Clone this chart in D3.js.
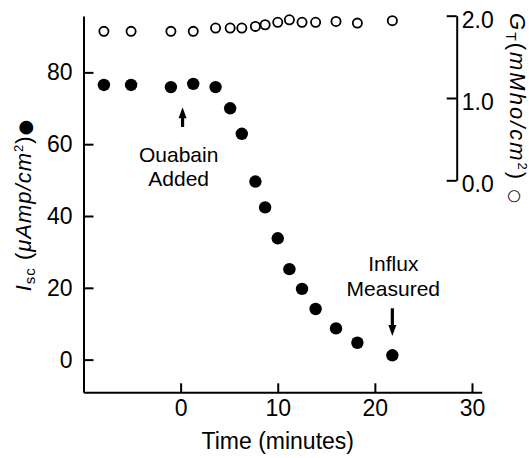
<!DOCTYPE html>
<html>
<head>
<meta charset="utf-8">
<script src="https://cdn.jsdelivr.net/npm/d3@7"></script>
<style>
body { margin:0; background:#fff; }
text { font-family: "Liberation Sans", Arial, Helvetica, sans-serif; fill:#000; }
.axis path, .axis line { stroke:#000; stroke-width:2; }
.axis text { font-size:23px; }
</style>
</head>
<body>
<script>
// time in minutes (shared by both series)
var times = [-7.9,-5.1,-1.0,1.3,3.6,5.1,6.3,7.7,8.7,10.0,11.2,12.5,13.9,16.0,18.2,21.8];
// short circuit current, uAmp/cm2 (filled dots)
var isc = [76.5,76.5,75.9,76.8,75.9,70.0,62.9,49.6,42.4,33.8,25.2,19.7,14.1,8.7,4.7,1.2];
// total conductance, mMho/cm2 (open dots)
var gt = [1.81,1.81,1.81,1.81,1.85,1.85,1.85,1.87,1.89,1.92,1.95,1.92,1.92,1.93,1.91,1.94];

var xTicks = [0,10,20,30];
var yTicks = [0,20,40,60,80];
var gTicks = [0,1,2];

var width = 529, height = 458;

var svg = d3.select("body").append("svg").attr("width",width).attr("height",height);

// Scales
var x = d3.scaleLinear().domain([-10,31]).range([83.5,481.7]);
var y = d3.scaleLinear().domain([-9.1,95.7]).range([392.3,16]);
var yG = d3.scaleLinear().domain([0,2]).range([180.3,15.7]);

// Axes
var xAxis = d3.axisBottom(x).tickValues(xTicks).tickSizeInner(-9).tickSizeOuter(0).tickPadding(7);
var yAxis = d3.axisLeft(y).tickValues(yTicks).tickSizeInner(-10).tickSizeOuter(0).tickPadding(11);
var gAxis = d3.axisRight(yG).tickValues(gTicks).tickSizeInner(-10).tickSizeOuter(0).tickPadding(5)
              .tickFormat(d3.format(".1f"));

svg.append("g").attr("class","axis x")
   .attr("transform","translate(0,"+y.range()[0]+")")
   .call(xAxis);
svg.append("g").attr("class","axis y")
   .attr("transform","translate("+x.range()[0]+",0)")
   .call(yAxis);
var gG = svg.append("g").attr("class","axis g")
   .attr("transform","translate(456.7,0)")
   .call(gAxis);
gG.selectAll("text").attr("dy","0.5em");

svg.selectAll(".axis .domain").attr("fill","none");

// Data points
svg.append("g").selectAll("circle.open")
   .data(gt).enter().append("circle")
   .attr("class","open")
   .attr("cx",function(d,i){return x(times[i]);})
   .attr("cy",function(d){return yG(d);})
   .attr("r",4.6)
   .attr("fill","none").attr("stroke","#000").attr("stroke-width",1.8);

svg.append("g").selectAll("circle.filled")
   .data(isc).enter().append("circle")
   .attr("class","filled")
   .attr("cx",function(d,i){return x(times[i]);})
   .attr("cy",function(d){return y(d);})
   .attr("r",6.2)
   .attr("fill","#000");

// Annotations
function arrow(t, from, to) {
  var xs = x(t), y0 = y(from), y1 = y(to);
  var dir = y1 > y0 ? 1 : -1;
  svg.append("line").attr("x1",xs).attr("x2",xs)
     .attr("y1",y0).attr("y2",y1 - dir*6)
     .attr("stroke","#000").attr("stroke-width",3.2);
  svg.append("path")
     .attr("d","M"+(xs-4)+","+(y1-dir*11)+"L"+xs+","+y1+"L"+(xs+4)+","+(y1-dir*11)+"Z")
     .attr("fill","#000");
}
arrow(0.2, 64.8, 70.3);
arrow(21.8, 14.3, 6.6);

var notes = [
  {t:-0.2, v:55.0, s:"Ouabain"},
  {t:-0.2, v:48.4, s:"Added"},
  {t:21.9, v:24.7, s:"Influx"},
  {t:21.9, v:17.7, s:"Measured"}
];
svg.append("g").selectAll("text")
   .data(notes).enter().append("text")
   .attr("x",function(d){return x(d.t);})
   .attr("y",function(d){return y(d.v);})
   .attr("text-anchor","middle")
   .style("font-size","21px")
   .text(function(d){return d.s;});

// Axis titles
svg.append("text")
   .attr("x",x(10)).attr("y",449)
   .attr("text-anchor","middle")
   .style("font-size","23px")
   .text("Time (minutes)");

var yl = svg.append("text")
   .attr("transform","translate(31,205) rotate(-90)")
   .attr("text-anchor","middle")
   .style("font-size","22px")
   .style("letter-spacing","1px");
yl.append("tspan").style("font-style","italic").text("I");
yl.append("tspan").attr("dy",4).style("font-size","15px").text("sc");
yl.append("tspan").attr("dy",-4).text(" (");
yl.append("tspan").style("font-style","italic").text("\u03bcAmp/cm");
yl.append("tspan").attr("dy",-8).style("font-size","13px").text("2");
yl.append("tspan").attr("dy",8).text(")");
yl.append("tspan").style("font-size","18px").style("font-family","DejaVu Sans").text("\u25cf");

var gl = svg.append("text")
   .attr("transform","translate(510,13) rotate(90)")
   .attr("text-anchor","start")
   .style("font-size","22px")
   .style("letter-spacing","2px");
gl.append("tspan").style("font-style","italic").text("G");
gl.append("tspan").attr("dy",4).style("font-size","14px").text("T");
gl.append("tspan").attr("dy",-4).text("(");
gl.append("tspan").style("font-style","italic").text("mMho/cm");
gl.append("tspan").attr("dy",-8).style("font-size","13px").text("2");
gl.append("tspan").attr("dy",8).text(") ");
gl.append("tspan").style("font-size","16px").style("font-family","DejaVu Sans").text("\u25cb");
</script>
</body>
</html>
